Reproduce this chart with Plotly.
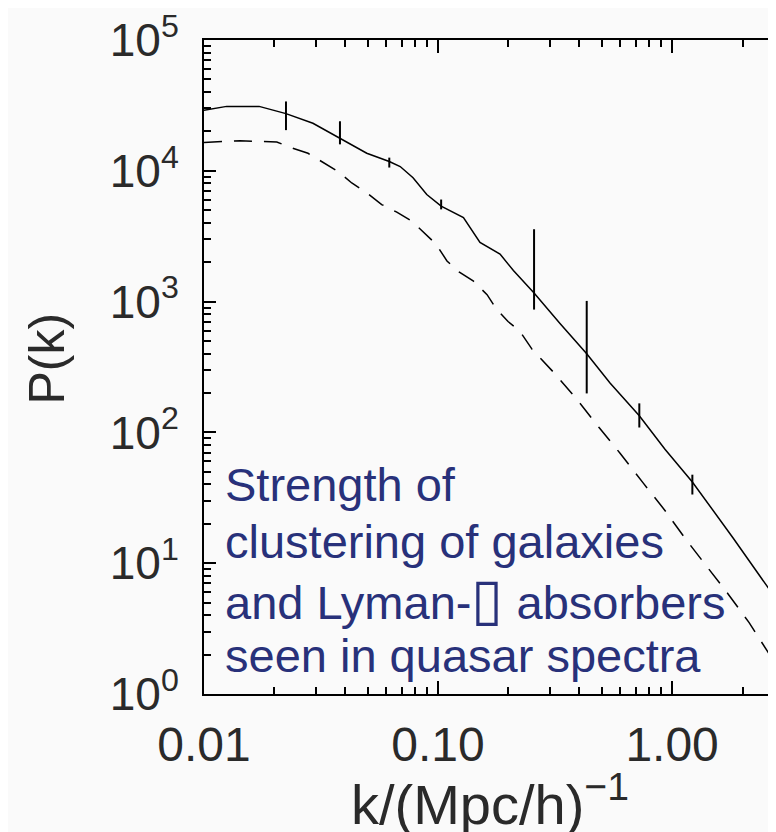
import math
import plotly.graph_objects as go

# ---- data ----
k_solid = [0.0100, 0.0125, 0.0172, 0.0224, 0.0292, 0.0381, 0.0496, 0.0619, 0.0689,
           0.0782, 0.0895, 0.1031, 0.1284, 0.1511, 0.1840, 0.2099, 0.2572, 0.3320,
           0.4318, 0.5430, 0.7244, 0.9325, 1.2209, 1.8226, 3.19]
p_solid = [28970, 31080, 31080, 27360, 23100, 17690, 13620, 11770, 10780,
           8850, 6580, 5370, 4385, 2835, 2312, 1727, 1164, 681,
           399, 239, 134, 74.3, 41.8, 15.6, 3.76]

k_err = [0.0224, 0.0381, 0.0619, 0.1031, 0.2572, 0.4318, 0.7244, 1.2209]
p_err = [27360, 17690, 11770, 5370, 1164, 399, 134, 41.8]
p_err_hi = [33900, 23920, 12610, 6030, 3575, 1012, 166.7, 47.5]
p_err_lo = [20460, 15930, 10590, 5070, 869, 198.6, 109, 33.5]

k_dashed = [0.0100, 0.01425, 0.02047, 0.02332, 0.02782, 0.03225, 0.03740, 0.04280,
            0.04958, 0.05745, 0.06665, 0.07746, 0.08716, 0.09805, 0.1092, 0.1229,
            0.1412, 0.1620, 0.1771, 0.1991, 0.2240, 0.2520, 0.3163, 0.3926, 0.4876,
            0.5994, 0.7521, 0.9339, 1.136, 1.412, 1.735, 2.134, 2.573, 3.19]
p_dashed = [16490, 16980, 16590, 15130, 13620, 11640, 9880, 8070,
            6780, 5520, 4830, 4110, 3390, 2750, 2045, 1687,
            1442, 1130, 885, 705, 592, 433, 280, 178, 109,
            69.3, 41.1, 25.2, 15.5, 9.33, 5.82, 3.51, 2.08, 1.28]

x_tick_vals = [0.01, 0.1, 1.0]
x_tick_text = ["0.01", "0.10", "1.00"]
y_tick_vals = [1, 10, 100, 1000, 10000, 100000]
y_tick_text = ["10<sup>0</sup>", "10<sup>1</sup>", "10<sup>2</sup>",
               "10<sup>3</sup>", "10<sup>4</sup>", "10<sup>5</sup>"]

annotation_lines = ["Strength of", "clustering of galaxies",
                    "and Lyman-<span style='font-size:58px'>\u25af</span> absorbers",
                    "seen in quasar spectra"]
x_title = "k/(Mpc/h)<sup>\u22121</sup>"
y_title = "P(k)"

# ---- layout geometry (page has an 8px body margin) ----
OFF = 8
W, H = 776 - OFF, 832 - OFF
L, R, T, B = 204 - OFF, 0, 33 - OFF, H - (694 - OFF)
PW, PH = W - L - R, H - T - B
X_MAX = 2.78


def px_x(px):
    return (px - 204) / PW


def px_y(py):
    return (694 - py) / PH


x_minor = [m * d for d in (0.01, 0.1, 1.0) for m in range(2, 10) if m * d < X_MAX]
y_minor = [m * d for d in (1, 10, 100, 1000, 10000) for m in range(2, 10)]

ink = "black"
label_ink = "#2a2a2a"
FONT = "Liberation Sans, Arial, sans-serif"
blue = "#28317a"
bg = "#fafafa"

fig = go.Figure()

fig.add_trace(go.Scatter(x=k_solid, y=p_solid, mode="lines",
                         line=dict(color=ink, width=1.5), showlegend=False,
                         hoverinfo="skip"))
fig.add_trace(go.Scatter(x=k_dashed, y=p_dashed, mode="lines", yaxis="y2",
                         line=dict(color=ink, width=1.5, dash="18px,12px"),
                         showlegend=False, hoverinfo="skip"))
fig.add_trace(go.Scatter(
    x=k_err, y=p_err, mode="markers",
    marker=dict(size=1, color=ink),
    error_y=dict(type="data", symmetric=False,
                 array=[h - p for h, p in zip(p_err_hi, p_err)],
                 arrayminus=[p - l for p, l in zip(p_err, p_err_lo)],
                 width=0, thickness=2, color=ink),
    showlegend=False, hoverinfo="skip"))

fig.update_layout(
    width=W, height=H,
    margin=dict(l=L, r=R, t=T, b=B, pad=0),
    paper_bgcolor=bg, plot_bgcolor=bg,
    showlegend=False,
    xaxis=dict(type="log", range=[-2, math.log10(X_MAX)],
               showgrid=False, zeroline=False,
               showline=True, linecolor=ink, linewidth=2, mirror="ticks",
               ticks="inside", ticklen=13, tickwidth=2, tickcolor=ink,
               tickvals=x_tick_vals, ticktext=x_tick_text,
               tickfont=dict(family=FONT, size=48, color=label_ink),
               ticklabelstandoff=7, ticklabeloverflow="allow",
               minor=dict(ticks="inside", ticklen=7, tickwidth=1.5,
                          tickcolor=ink, tickvals=x_minor, showgrid=False)),
    yaxis=dict(type="log", range=[0, 5],
               showgrid=False, zeroline=False,
               showline=True, linecolor=ink, linewidth=2, mirror=False,
               ticks="inside", ticklen=12, tickwidth=2, tickcolor=ink,
               tickvals=y_tick_vals, ticktext=y_tick_text,
               tickfont=dict(family=FONT, size=46, color=label_ink),
               ticklabelstandoff=14, ticklabeloverflow="allow",
               minor=dict(ticks="inside", ticklen=7, tickwidth=1.5,
                          tickcolor=ink, tickvals=y_minor, showgrid=False)),
    yaxis2=dict(type="log", range=[0, 5], overlaying="y", side="right",
                anchor="x", showgrid=False, zeroline=False, showline=False,
                ticks="inside", ticklen=8, tickwidth=2, tickcolor=ink,
                tickvals=y_tick_vals, showticklabels=False,
                minor=dict(ticks="inside", ticklen=2, tickwidth=1.5,
                           tickcolor=ink, tickvals=y_minor, showgrid=False)),
)

# axis titles as annotations for precise placement
fig.add_annotation(text=x_title, xref="paper", yref="paper",
                   x=px_x(490), y=px_y(802), xanchor="center", yanchor="middle",
                   showarrow=False,
                   font=dict(family=FONT, size=56, color=label_ink))
fig.add_annotation(text=y_title, xref="paper", yref="paper",
                   x=px_x(47), y=px_y(355), xanchor="center", yanchor="middle",
                   textangle=-90, showarrow=False,
                   font=dict(family=FONT, size=50, color=label_ink))

# blue explanatory text, one annotation per line
baselines = [499, 557, 614, 672]
fs = 47
for line, bl in zip(annotation_lines, baselines):
    fig.add_annotation(text=line, xref="paper", yref="paper",
                       x=px_x(223), y=px_y(bl - 0.36 * fs),
                       xanchor="left", yanchor="middle", showarrow=False,
                       font=dict(family=FONT, size=fs, color=blue))

fig.write_html("out.html")
